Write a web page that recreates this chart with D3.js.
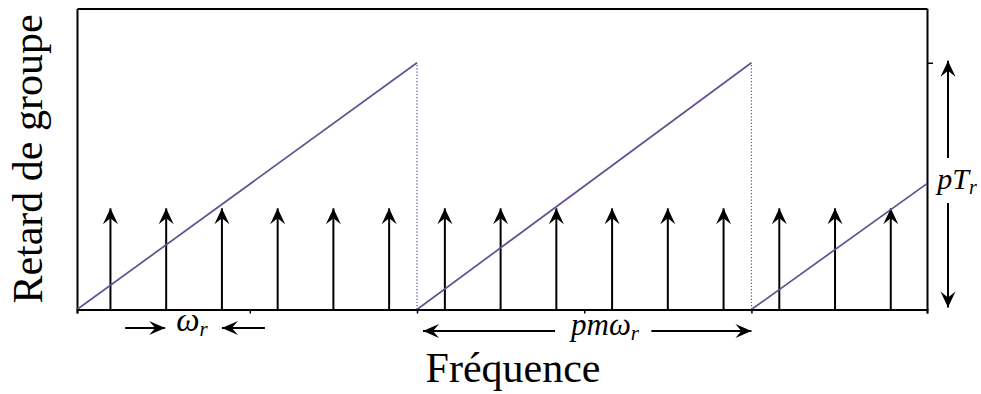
<!DOCTYPE html>
<html>
<head>
<meta charset="utf-8">
<script src="https://cdn.jsdelivr.net/npm/d3@7"></script>
<style>
  html, body { margin: 0; padding: 0; background: #fff; }
  svg { display: block; }
  text { font-family: "Liberation Serif", "DejaVu Serif", serif; fill: #000; }
</style>
</head>
<body>
<svg id="chart" width="981" height="394"></svg>
<script>
// Frequency in units of the comb spacing (omega_r); group delay in units of pT_r.
const pulseFreqs = [0.6, 1.6, 2.6, 3.6, 4.6, 5.6, 6.6, 7.6, 8.6, 9.6, 10.6, 11.6, 12.6, 13.6, 14.6];
const pulseAmps  = [0.41, 0.41, 0.41, 0.41, 0.41, 0.41, 0.41, 0.41, 0.41, 0.41, 0.41, 0.41, 0.41, 0.41, 0.41];

// Sawtooth group delay: each segment is [start, end] as [frequency, delay].
const delaySegments = [
  [[0, 0], [6.1, 1]],
  [[6.1, 0], [12.1, 1]],
  [[12.1, 0], [15.25, 0.51]]
];
const resetFreqs = [6.1, 12.1];

const xTicks = [0, 3.1, 6.1, 9.1, 12.1, 15.25];
const yTicks = [1];
const xDomain = [0, 15.25];
const yDomain = [0, 1.22];

const svg = d3.select("#chart");
const plotLeft = 77, plotRight = 927, plotTop = 8.5, plotBottom = 309.5;

const x = d3.scaleLinear().domain(xDomain).range([plotLeft, plotRight]);
const y = d3.scaleLinear().domain(yDomain).range([plotBottom, plotTop]);

const purple = "#654f92";

// Arrowhead markers
const defs = svg.append("defs");
function marker(id, len, half, back) {
  defs.append("marker")
    .attr("id", id)
    .attr("markerUnits", "userSpaceOnUse")
    .attr("viewBox", `${-len - 1} ${-half - 1} ${len + 2} ${2 * half + 2}`)
    .attr("refX", 0).attr("refY", 0)
    .attr("markerWidth", len + 2).attr("markerHeight", 2 * half + 2)
    .attr("orient", "auto")
    .append("path")
    .attr("d", `M0,0 L${-len},${-half} L${-back},0 L${-len},${half} Z`)
    .attr("fill", "#000");
}
marker("head", 16, 7.5, 10);
marker("headSmall", 16, 7, 10);

// Frame: top and left edges
svg.append("g").attr("transform", `translate(0,${plotTop})`)
  .call(d3.axisTop(x).tickValues([]).tickSizeOuter(0))
  .call(g => g.select(".domain").attr("stroke-width", 2));
svg.append("g").attr("transform", `translate(${plotLeft},0)`)
  .call(d3.axisLeft(y).tickValues([]).tickSizeOuter(0))
  .call(g => g.select(".domain").attr("stroke-width", 2));

// Right axis with the pT_r tick
svg.append("g").attr("transform", `translate(${plotRight},0)`)
  .call(d3.axisRight(y).tickValues(yTicks).tickSize(6).tickSizeOuter(0).tickFormat(""))
  .call(g => g.select(".domain").attr("stroke-width", 2))
  .call(g => g.selectAll(".tick line").attr("stroke-width", 1.5));

// Pulse comb
svg.append("g").selectAll("line")
  .data(pulseFreqs)
  .join("line")
  .attr("x1", d => x(d)).attr("x2", d => x(d))
  .attr("y1", y(0)).attr("y2", (d, i) => y(pulseAmps[i]))
  .attr("stroke", "#000").attr("stroke-width", 2)
  .attr("marker-end", "url(#head)");

// Reset lines (dotted)
svg.append("g").selectAll("line")
  .data(resetFreqs)
  .join("line")
  .attr("x1", d => x(d)).attr("x2", d => x(d))
  .attr("y1", y(0)).attr("y2", y(1))
  .attr("stroke", purple).attr("stroke-width", 1.2)
  .attr("stroke-dasharray", "1.2,2");

// Sawtooth delay
const line = d3.line().x(d => x(d[0])).y(d => y(d[1]));
svg.append("g").selectAll("path")
  .data(delaySegments)
  .join("path")
  .attr("d", line)
  .attr("fill", "none")
  .attr("stroke", purple).attr("stroke-width", 1.7);

// Bottom axis
svg.append("g").attr("transform", `translate(0,${plotBottom})`)
  .call(d3.axisBottom(x).tickValues(xTicks).tickSize(4).tickSizeOuter(4).tickFormat(""))
  .call(g => g.select(".domain").attr("stroke-width", 2))
  .call(g => g.selectAll(".tick line").attr("stroke-width", 1.5));

// Annotation arrows
function arrow(x1, y1, x2, y2, m) {
  svg.append("line")
    .attr("x1", x1).attr("y1", y1).attr("x2", x2).attr("y2", y2)
    .attr("stroke", "#000").attr("stroke-width", 2)
    .attr("marker-end", `url(#${m})`);
}
// omega_r spacing between the 2nd and 3rd pulses
const wy = 328;
arrow(x(pulseFreqs[1]) - 41, wy, x(pulseFreqs[1]) - 1, wy, "headSmall");
arrow(x(pulseFreqs[2]) + 43, wy, x(pulseFreqs[2]) + 0, wy, "headSmall");
const wl = svg.append("text")
  .attr("x", (x(pulseFreqs[1]) + x(pulseFreqs[2])) / 2 - 2).attr("y", 331)
  .attr("text-anchor", "middle").attr("font-size", 33).attr("font-style", "italic");
wl.append("tspan").text("ω");
wl.append("tspan").attr("font-size", 21).attr("dy", 5).text("r");

// p m omega_r : period of the sawtooth
const py = 331;
arrow(x(resetFreqs[0]) + 138, py, x(resetFreqs[0]) + 6, py, "headSmall");
arrow(x(resetFreqs[1]) - 100, py, x(resetFreqs[1]), py, "headSmall");
const pl = svg.append("text")
  .attr("x", 605).attr("y", 335)
  .attr("text-anchor", "middle").attr("font-size", 31).attr("font-style", "italic");
pl.append("tspan").text("pmω");
pl.append("tspan").attr("font-size", 21).attr("dy", 5).text("r");

// pT_r : full height of one sawtooth
const vx = 948;
arrow(vx, 158, vx, y(1) - 2, "head");
arrow(vx, 203, vx, y(0) - 2, "head");
const tl = svg.append("text")
  .attr("x", 957).attr("y", 189)
  .attr("text-anchor", "middle").attr("font-size", 30).attr("font-style", "italic");
tl.append("tspan").text("pT");
tl.append("tspan").attr("font-size", 20).attr("dy", 5).text("r");

// Axis titles
svg.append("text")
  .attr("x", 513).attr("y", 382)
  .attr("text-anchor", "middle").attr("font-size", 42)
  .text("Fréquence");
svg.append("text")
  .attr("transform", "translate(42,159) rotate(-90)")
  .attr("text-anchor", "middle").attr("font-size", 42)
  .text("Retard de groupe");
</script>
</body>
</html>
